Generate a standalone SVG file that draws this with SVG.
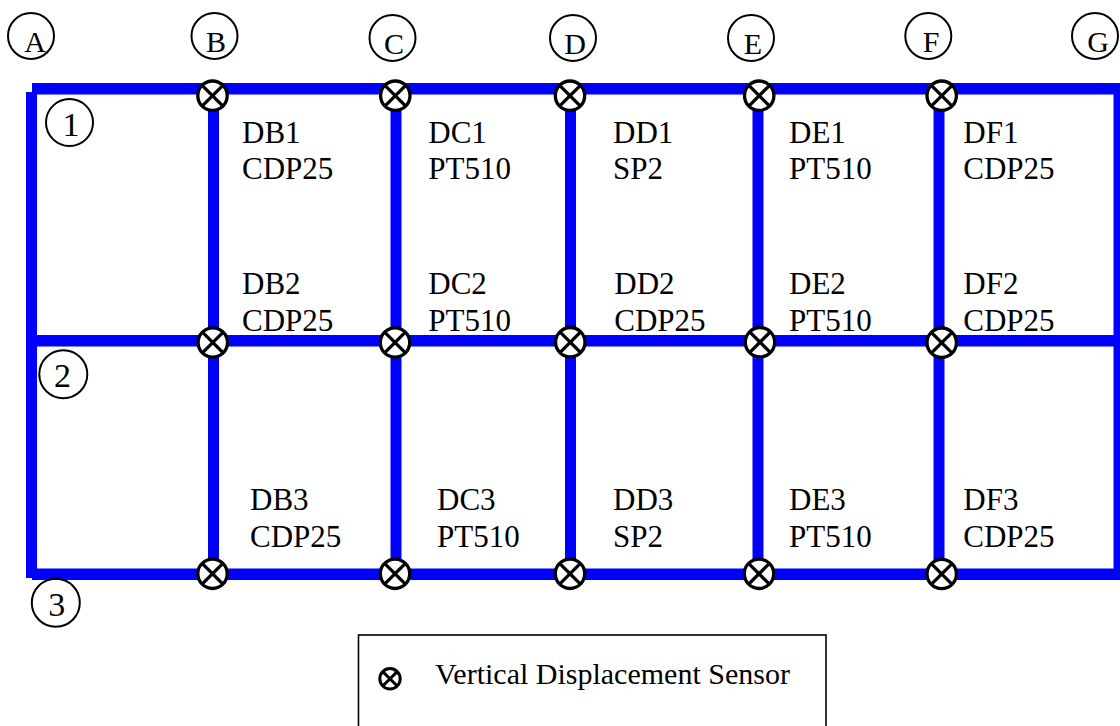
<svg xmlns="http://www.w3.org/2000/svg" width="1120" height="726" viewBox="0 0 1120 726">
<style>
.beam{fill:#0000ff;stroke:none}
.lbl{fill:none;stroke:#000;stroke-width:2}
.sen circle{fill:#fff;stroke:#000;stroke-width:3.3}
.sen line{stroke:#000;stroke-width:3.3}
</style>
<defs>
<g id="sensor" class="sen">
<circle cx="0" cy="0" r="14.7"/>
<line x1="-10.4" y1="-10.4" x2="10.4" y2="10.4"/>
<line x1="-10.4" y1="10.4" x2="10.4" y2="-10.4"/>
</g>
</defs>
<rect width="1120" height="726" fill="#fff"/>
<g id="connectors">
<rect class="beam" x="32" y="83" width="1088" height="11.5"/>
<rect class="beam" x="36" y="335" width="1084" height="11.5"/>
<rect class="beam" x="32" y="568.5" width="1088" height="11.5"/>
<rect class="beam" x="26" y="92" width="11" height="486"/>
<rect class="beam" x="1113.5" y="88" width="6.5" height="492"/>
<rect class="beam" x="208" y="88" width="11" height="486"/>
<rect class="beam" x="390.5" y="88" width="11" height="486"/>
<rect class="beam" x="565" y="88" width="11" height="486"/>
<rect class="beam" x="752.5" y="88" width="11" height="486"/>
<rect class="beam" x="933.5" y="88" width="11" height="486"/>
</g>
<g id="grid-labels" font-family="'Liberation Serif', 'Times New Roman', Tinos, 'DejaVu Serif', serif" fill="#000" text-anchor="middle">
<g id="gA" font-size="30"><circle class="lbl" cx="31" cy="36" r="23"/><text x="35" y="51.5">A</text></g>
<g id="gB" font-size="30"><circle class="lbl" cx="214.5" cy="36" r="23"/><text x="216" y="51.5">B</text></g>
<g id="gC" font-size="30"><circle class="lbl" cx="392.5" cy="38" r="23"/><text x="394" y="53.5">C</text></g>
<g id="gD" font-size="30"><circle class="lbl" cx="573" cy="38" r="23"/><text x="575" y="53.5">D</text></g>
<g id="gE" font-size="30"><circle class="lbl" cx="751" cy="38" r="23"/><text x="753" y="53.5">E</text></g>
<g id="gF" font-size="30"><circle class="lbl" cx="928.3" cy="36" r="23"/><text x="931" y="51.5">F</text></g>
<g id="gG" font-size="30"><circle class="lbl" cx="1095" cy="36" r="23"/><text x="1098" y="51.5">G</text></g>
<g id="g1" font-size="34"><circle class="lbl" cx="69.5" cy="122.5" r="23.5"/><text x="71" y="136">1</text></g>
<g id="g2" font-size="34"><circle class="lbl" cx="63.3" cy="374.3" r="24"/><text x="62.5" y="386.5">2</text></g>
<g id="g3" font-size="34"><circle class="lbl" cx="55.8" cy="602.8" r="24"/><text x="56.7" y="616">3</text></g>
</g>
<g id="sensors">
<use href="#sensor" x="212.5" y="95.7"/>
<use href="#sensor" x="395.3" y="95.7"/>
<use href="#sensor" x="570" y="95.7"/>
<use href="#sensor" x="759.2" y="95.7"/>
<use href="#sensor" x="941.7" y="95.7"/>
<use href="#sensor" x="212.8" y="342.5"/>
<use href="#sensor" x="395" y="342.5"/>
<use href="#sensor" x="570.3" y="342.2"/>
<use href="#sensor" x="760" y="342.2"/>
<use href="#sensor" x="941.7" y="342.7"/>
<use href="#sensor" x="212.5" y="573.8"/>
<use href="#sensor" x="395" y="573.8"/>
<use href="#sensor" x="570" y="573.8"/>
<use href="#sensor" x="759" y="573.8"/>
<use href="#sensor" x="941.7" y="574"/>
</g>
<g id="labels" font-family="'Liberation Serif', 'Times New Roman', Tinos, 'DejaVu Serif', serif" font-size="31" fill="#000">
<g id="DB1"><text x="242" y="142.7">DB1</text><text x="242" y="179.3">CDP25</text></g>
<g id="DC1"><text x="428.3" y="142.7">DC1</text><text x="428.3" y="179.3">PT510</text></g>
<g id="DD1"><text x="613" y="142.7">DD1</text><text x="613" y="179.3">SP2</text></g>
<g id="DE1"><text x="789" y="142.7">DE1</text><text x="789" y="179.3">PT510</text></g>
<g id="DF1"><text x="963.3" y="142.7">DF1</text><text x="963.3" y="179.3">CDP25</text></g>
<g id="DB2"><text x="242" y="294.3">DB2</text><text x="242" y="330.8">CDP25</text></g>
<g id="DC2"><text x="428.3" y="294.3">DC2</text><text x="428.3" y="330.8">PT510</text></g>
<g id="DD2"><text x="614.3" y="294.3">DD2</text><text x="614.3" y="330.8">CDP25</text></g>
<g id="DE2"><text x="789" y="294.3">DE2</text><text x="789" y="330.8">PT510</text></g>
<g id="DF2"><text x="963.3" y="294.3">DF2</text><text x="963.3" y="330.8">CDP25</text></g>
<g id="DB3"><text x="250" y="510">DB3</text><text x="250" y="546.7">CDP25</text></g>
<g id="DC3"><text x="437" y="510">DC3</text><text x="437" y="546.7">PT510</text></g>
<g id="DD3"><text x="613" y="510">DD3</text><text x="613" y="546.7">SP2</text></g>
<g id="DE3"><text x="789" y="510">DE3</text><text x="789" y="546.7">PT510</text></g>
<g id="DF3"><text x="963.3" y="510">DF3</text><text x="963.3" y="546.7">CDP25</text></g>
</g>
<g id="legend">
<rect x="358.5" y="635" width="467.5" height="100" fill="#fff" stroke="#000" stroke-width="1.6"/>
<circle cx="390" cy="678.8" r="10.2" fill="none" stroke="#000" stroke-width="3"/>
<line x1="382.8" y1="671.6" x2="397.2" y2="686" stroke="#000" stroke-width="3"/>
<line x1="382.8" y1="686" x2="397.2" y2="671.6" stroke="#000" stroke-width="3"/>
<text font-family="'Liberation Serif', 'Times New Roman', Tinos, 'DejaVu Serif', serif" font-size="30" fill="#000" x="435" y="684.3">Vertical Displacement Sensor</text>
</g>
</svg>
